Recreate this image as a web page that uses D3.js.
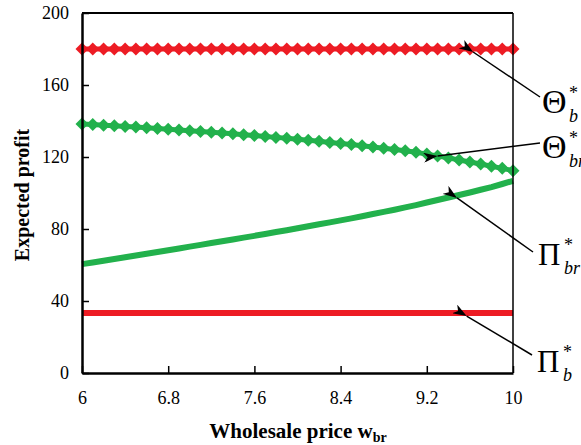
<!DOCTYPE html>
<html>
<head>
<meta charset="utf-8">
<script src="https://cdn.jsdelivr.net/npm/d3@7"></script>
<style>
  html, body { margin: 0; padding: 0; background: #fff; }
  svg { display: block; }
  text { font-family: "Liberation Serif", "Times New Roman", serif; }
</style>
</head>
<body>
<svg id="chart" width="581" height="445"></svg>
<script>
// Wholesale price grid (step 0.1)
const wholesalePrices = d3.range(41).map(i => +(6 + i * 0.1).toFixed(1));

// Θ*_b : constant expected profit
const thetaB = Array(41).fill(180);

// Θ*_br : decreasing, concave
const thetaBr = [
  138.3, 138.0, 137.6, 137.3, 136.9, 136.6, 136.2, 135.8, 135.4, 135.0,
  134.6, 134.2, 133.8, 133.3, 132.9, 132.4, 131.9, 131.4, 130.9, 130.4,
  129.8, 129.3, 128.7, 128.1, 127.5, 126.9, 126.2, 125.6, 124.9, 124.2,
  123.5, 122.6, 121.6, 120.6, 119.5, 118.3, 117.2, 116.1, 114.9, 113.7,
  112.4
];

// Π*_br : increasing, convex
const piBr = [
  60.5, 61.4, 62.4, 63.3, 64.3, 65.3, 66.2, 67.2, 68.2, 69.2,
  70.2, 71.2, 72.2, 73.2, 74.2, 75.2, 76.2, 77.2, 78.3, 79.3,
  80.4, 81.5, 82.6, 83.7, 84.8, 85.9, 87.1, 88.3, 89.5, 90.7,
  92.0, 93.3, 94.7, 96.1, 97.5, 98.9, 100.3, 101.8, 103.3, 105.0,
  106.8
];

// Π*_b : constant
const piB = Array(41).fill(33.3);

const xTicks = [6, 6.8, 7.6, 8.4, 9.2, 10];
const yTicks = [0, 40, 80, 120, 160, 200];

const RED = "#ed1c24";
const GREEN = "#22b14c";

const svg = d3.select("#chart");
const plotL = 82, plotR = 513, plotT = 13, plotB = 373;

const x = d3.scaleLinear().domain([6, 10]).range([plotL, plotR]);
const y = d3.scaleLinear().domain([0, 200]).range([plotB, plotT]);

const defs = svg.append("defs");
defs.append("marker")
  .attr("id", "arrowHead")
  .attr("viewBox", "0 0 14 10")
  .attr("refX", 0).attr("refY", 5)
  .attr("markerWidth", 14).attr("markerHeight", 10)
  .attr("markerUnits", "userSpaceOnUse")
  .attr("orient", "auto-start-reverse")
  .append("path")
  .attr("d", "M0,5 L14,0 L10,5 L14,10 Z")
  .attr("fill", "#000");

const line = d3.line().x(d => x(d[0])).y(d => y(d[1]));
const zip = vals => wholesalePrices.map((w, i) => [w, vals[i]]);

// plain lines
svg.append("path").datum(zip(piB)).attr("d", line)
  .attr("fill", "none").attr("stroke", RED).attr("stroke-width", 6);
svg.append("path").datum(zip(piBr)).attr("d", line)
  .attr("fill", "none").attr("stroke", GREEN).attr("stroke-width", 6);

// diamond-marked series
function diamondSeries(vals, color) {
  const g = svg.append("g");
  g.append("path").datum(zip(vals)).attr("d", line)
    .attr("fill", "none").attr("stroke", color).attr("stroke-width", 5);
  const r = 6.5;
  g.selectAll("path.dm").data(zip(vals)).join("path")
    .attr("class", "dm")
    .attr("d", d => {
      const cx = x(d[0]), cy = y(d[1]);
      return `M${cx},${cy - r} L${cx + r},${cy} L${cx},${cy + r} L${cx - r},${cy} Z`;
    })
    .attr("fill", color);
}
diamondSeries(thetaB, RED);
diamondSeries(thetaBr, GREEN);

// frame
svg.append("line").attr("x1", plotL).attr("x2", plotR).attr("y1", plotT).attr("y2", plotT)
  .attr("stroke", "#000").attr("stroke-width", 2);
svg.append("line").attr("x1", plotR).attr("x2", plotR).attr("y1", plotT).attr("y2", plotB)
  .attr("stroke", "#000").attr("stroke-width", 1.5);

// axes
const xAxis = svg.append("g").attr("transform", `translate(0,${plotB})`)
  .call(d3.axisBottom(x).tickValues(xTicks).tickSizeInner(-7).tickSizeOuter(0)
    .tickPadding(18).tickFormat(d3.format("")));
const yAxis = svg.append("g").attr("transform", `translate(${plotL},0)`)
  .call(d3.axisLeft(y).tickValues(yTicks).tickSizeInner(-7).tickSizeOuter(0)
    .tickPadding(13));
[xAxis, yAxis].forEach(a => {
  a.select(".domain").attr("stroke", "#000").attr("stroke-width", 2.5);
  a.selectAll(".tick line").attr("stroke", "#000").attr("stroke-width", 1.5);
  a.selectAll(".tick text").attr("font-size", 18).attr("fill", "#000");
});

// axis titles
svg.append("text")
  .attr("transform", `translate(29,${(plotT + plotB) / 2 + 2}) rotate(-90)`)
  .attr("text-anchor", "middle")
  .attr("font-weight", "bold").attr("font-size", 20)
  .text("Expected profit");

const xt = svg.append("text")
  .attr("x", 298).attr("y", 438)
  .attr("text-anchor", "middle")
  .attr("font-weight", "bold").attr("font-size", 21);
xt.append("tspan").text("Wholesale price w");
xt.append("tspan").attr("font-size", 14).attr("dy", 4).text("br");

// annotations: symbol, subscript, the point the arrow touches and the arrow tail
const notes = [
  { sym: "Θ", sub: "b",  fs: 34, gw: 26, lx: 542, ly: 113, tip: [9.63, thetaB[36]],  dy: 3, tail: [540, 97] },
  { sym: "Θ", sub: "br", fs: 34, gw: 26, lx: 542, ly: 158, tip: [9.3,  thetaBr[33]], dy: 0, tail: [540, 143] },
  { sym: "Π", sub: "br", fs: 31, gw: 25, lx: 538, ly: 265, tip: [9.48, piBr[35]],    dy: 3, tail: [533, 252] },
  { sym: "Π", sub: "b",  fs: 31, gw: 25, lx: 537, ly: 372, tip: [9.57, piB[36]],     dy: 3, tail: [532, 355] }
];

notes.forEach(n => {
  const tx = x(n.tip[0]), ty = y(n.tip[1]) + n.dy;
  svg.append("line")
    .attr("x1", tx).attr("y1", ty)
    .attr("x2", n.tail[0]).attr("y2", n.tail[1])
    .attr("stroke", "#000").attr("stroke-width", 1.5)
    .attr("marker-start", "url(#arrowHead)");
  svg.append("text").attr("x", n.lx).attr("y", n.ly).attr("fill", "#000")
    .attr("font-size", n.fs)
    .text(n.sym);
  svg.append("text").attr("x", n.lx + n.gw + 1).attr("y", n.ly - 14)
    .attr("font-size", 18).text("*");
  svg.append("text").attr("x", n.lx + n.gw + 1).attr("y", n.ly + 9)
    .attr("font-size", 18).attr("font-style", "italic").text(n.sub);
});
</script>
</body>
</html>
